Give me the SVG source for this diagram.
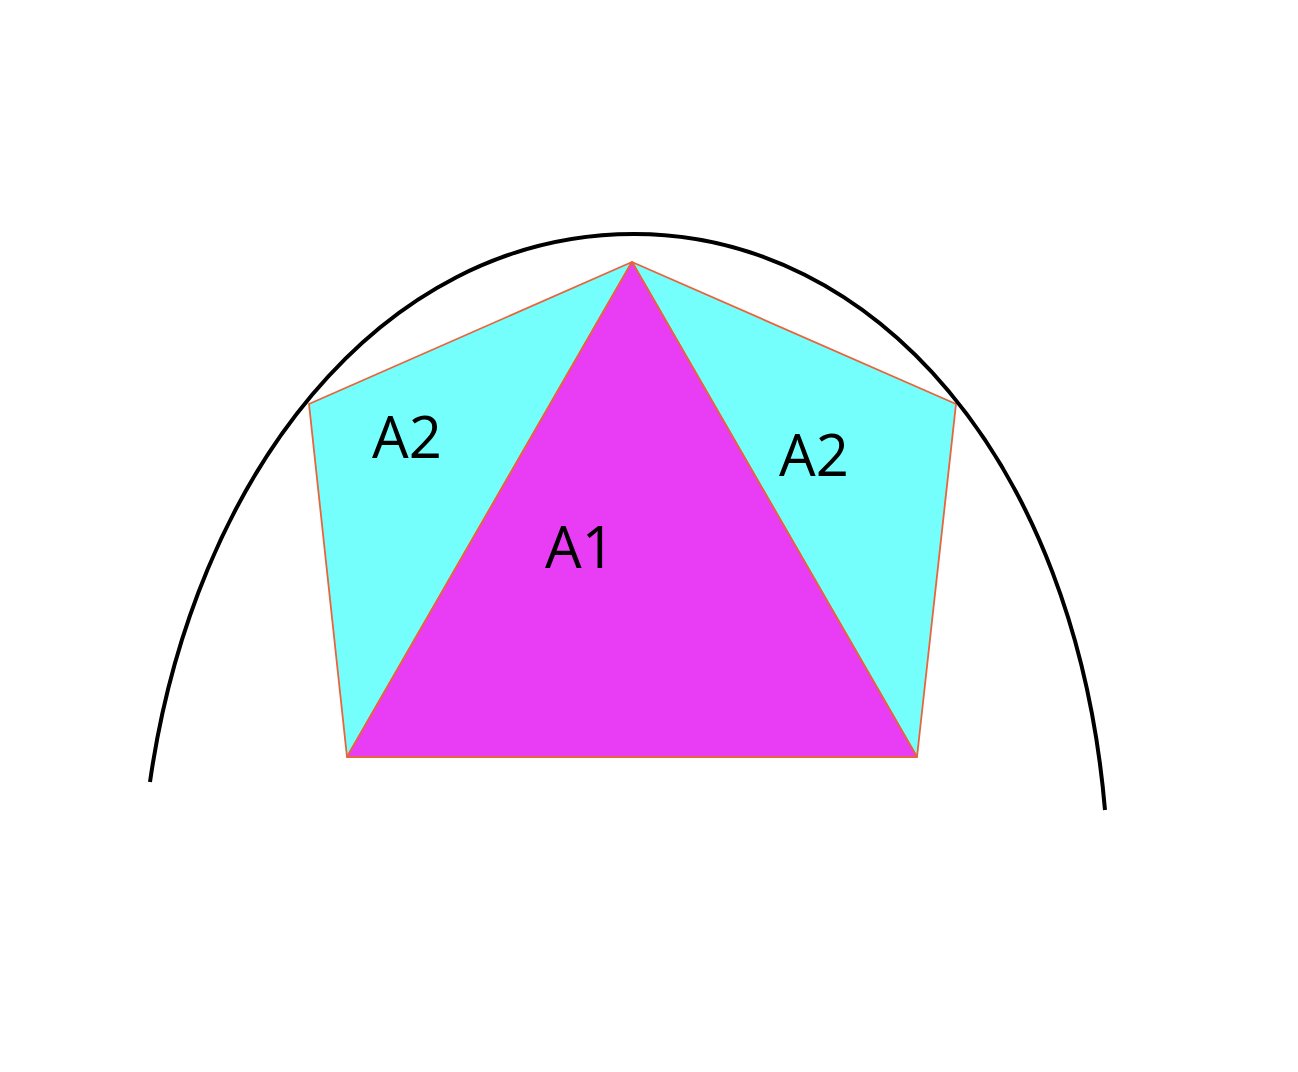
<svg xmlns="http://www.w3.org/2000/svg" width="1298" height="1072" viewBox="0 0 1298 1072">
<style>
.edge{stroke:#E8643C;stroke-width:1.8;stroke-linejoin:round}
.cyan{fill:#75FFFC}
.mag{fill:#E93CF5}
.lbl{font-family:"Open Sans","Liberation Sans",sans-serif;font-size:58px;fill:#000}
</style>
<rect width="1298" height="1072" fill="#fff"/>
<g id="leftA2">
<polygon class="cyan edge" points="632,262 309,404 347,757"/>
<text class="lbl" x="372" y="458">A2</text>
</g>
<g id="rightA2">
<polygon class="cyan edge" points="632,262 956,404 917,757"/>
<text class="lbl" x="779" y="476">A2</text>
</g>
<g id="A1">
<polygon class="mag edge" points="632,262 347,757 917,757"/>
<text class="lbl" x="545" y="568">A1</text>
</g>
<g id="curve">
<path d="M150,782 C193,480 378,234 634,234 C874,234 1075,460 1105,810" fill="none" stroke="#000" stroke-width="4"/>
</g>
</svg>
